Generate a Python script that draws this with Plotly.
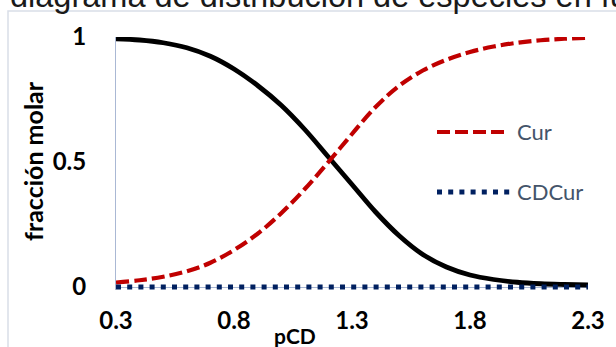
import plotly.graph_objects as go

# pCD values (x axis)
pcd = [0.3, 0.4, 0.5, 0.6, 0.7, 0.8, 0.9, 1.0, 1.1, 1.2, 1.3,
       1.4, 1.5, 1.6, 1.7, 1.8, 1.9, 2.0, 2.1, 2.2, 2.3]

# molar fractions
frac_total = [0.993, 0.988, 0.977, 0.957, 0.923, 0.872, 0.806, 0.727, 0.630, 0.520, 0.410,
              0.300, 0.205, 0.130, 0.080, 0.048, 0.030, 0.019, 0.013, 0.010, 0.008]
frac_cur = [0.018, 0.027, 0.041, 0.063, 0.097, 0.148, 0.213, 0.295, 0.392, 0.500, 0.612,
            0.720, 0.805, 0.866, 0.909, 0.940, 0.962, 0.977, 0.987, 0.993, 0.997]
frac_cdcur = [0.0] * len(pcd)

x_ticks = [0.3, 0.8, 1.3, 1.8, 2.3]
x_ticktext = ["0.3", "0.8", "1.3", "1.8", "2.3"]
y_ticks = [0, 0.5, 1]
y_ticktext = ["0", "0.5", "1"]

RED = "#C00000"
NAVY = "#002060"
AXIS = "#AAB8D4"
LEG_TXT = "#44546A"

RED_DASH = "13px,5px"
NAVY_DOT = "5px,6.2px"

fig = go.Figure()
fig.add_trace(go.Scatter(x=pcd, y=frac_total, mode="lines", name="CD",
                         line=dict(color="#000000", width=4.8, shape="spline"),
                         showlegend=False, cliponaxis=False))
fig.add_trace(go.Scatter(x=pcd, y=frac_cur, mode="lines", name="Cur",
                         line=dict(color=RED, width=4.2, dash=RED_DASH, shape="spline"),
                         showlegend=False, cliponaxis=False))
fig.add_trace(go.Scatter(x=pcd, y=frac_cdcur, mode="lines", name="CDCur",
                         line=dict(color=NAVY, width=5, dash=NAVY_DOT),
                         showlegend=False, cliponaxis=False))

tick_font = dict(family="Lato", size=24, color="#000000", weight="bold")

# a little room below zero so the dotted series on y = 0 is drawn whole;
# the horizontal axis line is the y = 0 zeroline
Y_MIN = -0.012

fig.update_xaxes(range=[0.3, 2.3], tickvals=x_ticks, ticktext=x_ticktext,
                 showgrid=False, zeroline=False, showline=False,
                 ticks="", tickfont=tick_font, ticklabelstandoff=14)
fig.update_yaxes(range=[Y_MIN, 1], tickvals=y_ticks, ticktext=y_ticktext,
                 showgrid=False, zeroline=True, zerolinecolor=AXIS, zerolinewidth=1,
                 showline=True, linecolor=AXIS, linewidth=1,
                 ticks="", tickfont=tick_font, ticklabelstandoff=24)

W, H = 616, 347
L, R, T = 116, 28, 37
Y0_PX = 287                      # pixel row of y = 0
PX_PER_UNIT = Y0_PX - T          # 250 px per unit of molar fraction
B = H - Y0_PX - round(-Y_MIN * PX_PER_UNIT)
PW, PH = W - L - R, H - T - B


def px(xp):
    return (xp - L) / PW


def py(yp):
    return (H - B - yp) / PH


annotations = [
    # chart title, running past the top and right edges
    dict(text="diagrama de distribución de especies en función de pCD",
         x=px(8), y=py(-4), xref="paper", yref="paper",
         xanchor="left", yanchor="middle", showarrow=False,
         font=dict(family="Liberation Sans", size=32.5, color="#1a1a1a")),
    dict(text="fracción molar", x=px(33), y=py(161), xref="paper", yref="paper",
         textangle=-90, showarrow=False, xanchor="center", yanchor="middle",
         font=dict(family="Lato", size=25, color="#000000", weight="bold")),
    dict(text="pCD", x=px(295), y=py(335), xref="paper", yref="paper",
         showarrow=False, xanchor="center", yanchor="middle",
         font=dict(family="Lato", size=21, color="#000000", weight="bold")),
    dict(text="Cur", x=px(515), y=py(131), xref="paper", yref="paper",
         showarrow=False, xanchor="left", yanchor="middle",
         font=dict(family="Lato", size=22, color=LEG_TXT)),
    dict(text="CDCur", x=px(515), y=py(191), xref="paper", yref="paper",
         showarrow=False, xanchor="left", yanchor="middle",
         font=dict(family="Lato", size=22, color=LEG_TXT)),
]

shapes = [
    # chart area border
    dict(type="rect", xref="paper", yref="paper",
         x0=px(8), x1=px(640), y0=py(380), y1=py(11),
         line=dict(color="#D9DEE8", width=1.5), fillcolor="rgba(0,0,0,0)", layer="below"),
    # legend keys
    dict(type="line", xref="paper", yref="paper",
         x0=px(437), x1=px(508), y0=py(132), y1=py(132),
         line=dict(color=RED, width=4.2, dash=RED_DASH)),
    dict(type="line", xref="paper", yref="paper",
         x0=px(437), x1=px(511), y0=py(192), y1=py(192),
         line=dict(color=NAVY, width=5, dash=NAVY_DOT)),
]

fig.update_layout(width=W, height=H, margin=dict(l=L, r=R, t=T, b=B, autoexpand=False),
                  paper_bgcolor="#FFFFFF", plot_bgcolor="#FFFFFF",
                  annotations=annotations, shapes=shapes, showlegend=False)

fig.write_html("out.html")
